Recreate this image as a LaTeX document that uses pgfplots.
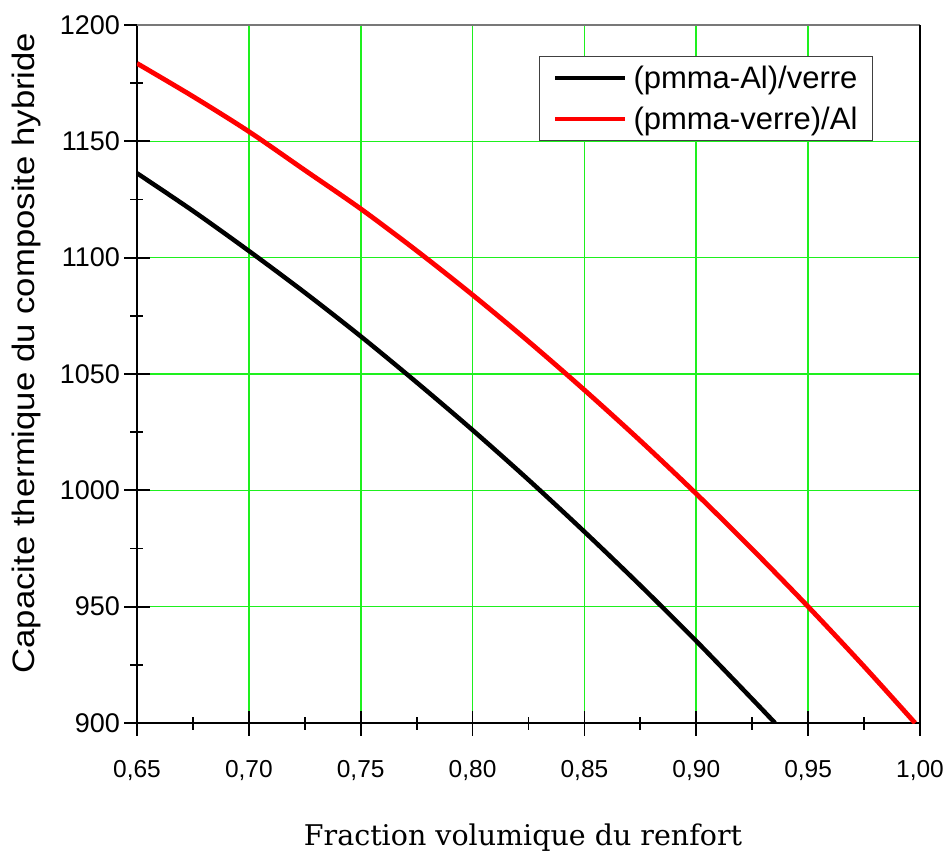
\documentclass[border=0pt]{standalone}
\usepackage{pgfplots}
\usepackage{pgfplotstable}
\pgfplotsset{compat=1.18}
\usepackage{fontspec}
\setmainfont{Liberation Sans}
\newfontfamily\ylabfont[FakeStretch=1.12]{Liberation Sans}
\newfontfamily\xlabfont{DejaVu Serif}
\definecolor{gridgreen}{RGB}{30,240,30}
\definecolor{axgray}{RGB}{120,120,120}

\pgfplotstableread{
x y
0.650 1136.3
0.675 1120.1
0.700 1102.9
0.725 1085.0
0.750 1066.2
0.775 1046.4
0.800 1025.9
0.825 1004.5
0.850 982.2
0.875 959.1
0.900 935.2
0.925 910.3
0.9352 900.0
}\blackdata

\pgfplotstableread{
x y
0.650 1183.5
0.675 1169.3
0.700 1154.2
0.725 1137.6
0.750 1121.0
0.775 1103.0
0.800 1084.0
0.825 1064.0
0.850 1043.1
0.875 1021.3
0.900 998.5
0.925 974.7
0.950 950.0
0.975 924.3
0.9978 900.0
}\reddata

\begin{document}
\begin{tikzpicture}
\begin{axis}[
  name=ax, at={(0,0)}, anchor=south west,
  scale only axis, width=783bp, height=698bp,
  xmin=0.65, xmax=1.0, ymin=900, ymax=1200,
  axis x line*=bottom, axis y line*=left,
  x axis line style={-, line width=2.7bp, black},
  y axis line style={-, line width=2.7bp, black},
  xtick={0.65,0.70,0.75,0.80,0.85,0.90,0.95,1.00},
  ytick={900,950,1000,1050,1100,1150,1200},
  minor x tick num=1, minor y tick num=1,
  tick align=center,
  major tick length=25bp, minor tick length=13bp,
  every tick/.style={black, line width=1.8bp},
  grid=major, major grid style={gridgreen, line width=1.6bp},
  /pgf/number format/assume math mode=true,
  xticklabel style={font=\fontsize{24.5bp}{30bp}\selectfont, yshift=-21bp,
    /pgf/number format/.cd, fixed, fixed zerofill, precision=2, use comma},
  yticklabel style={font=\fontsize{27bp}{32bp}\selectfont, xshift=-1bp,
    /pgf/number format/.cd, 1000 sep={}},
  xlabel={\xlabfont\fontsize{28.5bp}{34bp}\selectfont Fraction volumique du renfort},
  xlabel style={at={(axis description cs:0.493,-0.1748)}, anchor=base},
  ylabel={\ylabfont\fontsize{31bp}{36bp}\selectfont Capacite thermique du composite hybride},
  ylabel style={at={(axis description cs:-0.1303,0.530)}, anchor=base},
  legend style={at={(axis description cs:0.5134,0.9557)}, anchor=north west,
    draw=black!75, line width=1.5bp, fill=white,
    font=\fontsize{31bp}{36bp}\selectfont, cells={anchor=west},
    inner xsep=13bp, inner ysep=7.5bp, row sep=13bp,
    /tikz/every odd column/.append style={column sep=4bp}},
  legend image code/.code={\draw[#1] (0bp,0bp) -- (70bp,0bp);},
]
\addplot[black, line width=4.5bp, smooth] table {\blackdata};
\addlegendentry{(pmma-Al)/verre}
\addplot[red, line width=4.8bp, smooth] table {\reddata};
\addlegendentry{(pmma-verre)/Al}
\end{axis}
\draw[axgray, line width=2bp] (ax.north west) -- (ax.north east);
\draw[black, line width=1.5bp] (ax.south east) -- (ax.north east);
\pgfresetboundingbox
\path[use as bounding box] (-137bp,-129bp) rectangle (807bp,723bp);
\end{tikzpicture}
\end{document}
